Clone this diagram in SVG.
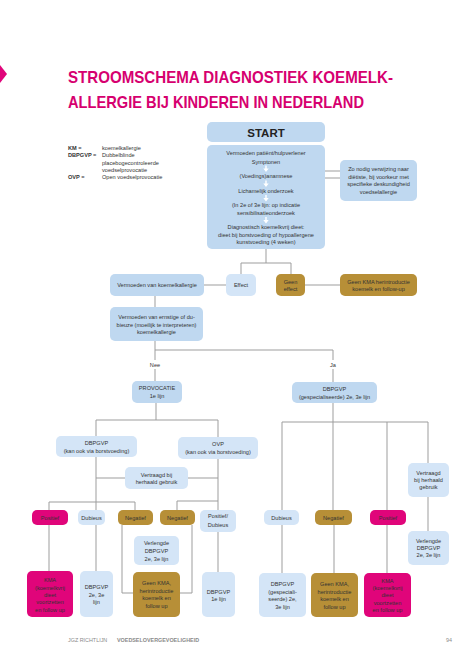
<svg xmlns="http://www.w3.org/2000/svg" width="474" height="670" viewBox="0 0 474 670">
<style>
.t{font-family:"Liberation Sans",Arial,sans-serif;font-size:5.6px;fill:#333;text-anchor:middle}
.lg{font-family:"Liberation Sans",Arial,sans-serif;font-size:5.6px;fill:#333}
.b{fill:#bfd8f0}
.l{fill:#d4e5f7}
.g{fill:#b78f37}
.p{fill:#e0057a}
.c line,.c path{stroke:#9d9d9d;stroke-width:1;fill:none}
.title{font-family:"Liberation Sans",Arial,sans-serif;font-weight:bold;font-size:17px;fill:#d6006f}
.ft{font-family:"Liberation Sans",Arial,sans-serif;font-size:5.4px;fill:#8a8a8a}
</style>
<rect width="474" height="670" fill="#fff"/>
<path d="M0 65 L7 74 L0 83 Z" fill="#e0057a"/>
<text class="title" x="68" y="83" textLength="325" lengthAdjust="spacingAndGlyphs">STROOMSCHEMA DIAGNOSTIEK KOEMELK-</text>
<text class="title" x="68" y="108" textLength="296" lengthAdjust="spacingAndGlyphs">ALLERGIE BIJ KINDEREN IN NEDERLAND</text>

<g id="legend">
<text class="lg" x="68" y="150" font-weight="bold">KM =</text><text class="lg" x="102" y="150">koemelkallergie</text>
<text class="lg" x="68" y="157" font-weight="bold">DBPGVP =</text><text class="lg" x="102" y="157">Dubbelblinde</text>
<text class="lg" x="102" y="164.5">placebogecontroleerde</text>
<text class="lg" x="102" y="171.5">voedselprovocatie</text>
<text class="lg" x="68" y="179" font-weight="bold">OVP =</text><text class="lg" x="102" y="179">Open voedselprovocatie</text>
</g>

<g class="c" id="connectors">
<line x1="325" y1="171" x2="340" y2="171"/>
<line x1="325" y1="178" x2="340" y2="178"/>
<line x1="266" y1="249" x2="266" y2="263"/>
<path d="M241 274 V263 H291 V274"/>
<line x1="204" y1="285" x2="226" y2="285"/>
<line x1="305" y1="285" x2="340" y2="285"/>
<line x1="155" y1="296" x2="155" y2="307"/>
<path d="M155 341 V350 H333 V360"/>
<line x1="333" y1="369" x2="333" y2="382"/>
<line x1="155" y1="350" x2="155" y2="360"/>
<line x1="155" y1="369" x2="155" y2="381"/>
<path d="M96 436 V420 H218 V437"/>
<line x1="156" y1="403" x2="156" y2="420"/>
<line x1="96" y1="457" x2="96" y2="510"/>
<line x1="96" y1="478" x2="125" y2="478"/>
<line x1="188" y1="478" x2="218" y2="478"/>
<line x1="218" y1="459" x2="218" y2="510"/>
<path d="M49 510 V502 H135 V510"/>
<path d="M177 510 V501 H218"/>
<line x1="49" y1="525" x2="49" y2="571"/>
<line x1="96" y1="525" x2="96" y2="571"/>
<path d="M122 525 V593 H133"/>
<path d="M192 525 V593 H180"/>
<line x1="218" y1="532" x2="218" y2="572"/>
<line x1="333" y1="403" x2="333" y2="422"/>
<path d="M282 510 V422 H428 V463"/>
<line x1="333" y1="422" x2="333" y2="510"/>
<line x1="387" y1="422" x2="387" y2="510"/>
<line x1="428" y1="497" x2="428" y2="531"/>
<line x1="282" y1="525" x2="282" y2="573"/>
<line x1="334" y1="525" x2="334" y2="573"/>
<line x1="387" y1="525" x2="387" y2="573"/>
</g>
<text class="t" x="155" y="367">Nee</text>
<text class="t" x="333" y="367">Ja</text>

<g id="start"><rect class="b" x="207" y="122" width="118" height="20" rx="5"/>
<text class="t" x="266" y="137" style="font-size:11.5px;font-weight:bold;fill:#222">START</text></g>

<g id="main"><rect class="b" x="207" y="145" width="118" height="104" rx="5"/>
<text class="t" x="266" y="155">Vermoeden patiënt/hulpverlener</text>
<text class="t" x="266" y="163.5">Symptonen</text>
<path d="M265.3 165.5 h1.4 v3 h2 l-2.7 3.5 l-2.7 -3.5 h2 z" fill="#fff"/>
<text class="t" x="266" y="178">(Voedings)anamnese</text>
<path d="M265.3 180.5 h1.4 v3 h2 l-2.7 3.5 l-2.7 -3.5 h2 z" fill="#fff"/>
<text class="t" x="266" y="193">Lichamelijk onderzoek</text>
<path d="M265.3 195 h1.4 v3 h2 l-2.7 3.5 l-2.7 -3.5 h2 z" fill="#fff"/>
<text class="t" x="266" y="207">(In 2e of 3e lijn: op indicatie</text>
<text class="t" x="266" y="215">sensibilisatieonderzoek</text>
<path d="M265.3 217 h1.4 v3 h2 l-2.7 3.5 l-2.7 -3.5 h2 z" fill="#fff"/>
<text class="t" x="266" y="229">Diagnostisch koemelkvrij dieet:</text>
<text class="t" x="266" y="236.5">dieet bij borstvoeding of hypoallergene</text>
<text class="t" x="266" y="244">kunstvoeding (4 weken)</text></g>

<g id="dietist"><rect class="b" x="340" y="160" width="77" height="41" rx="5"/>
<text class="t" x="378.5" y="171">Zo nodig verwijzing naar</text>
<text class="t" x="378.5" y="178.5">diëtiste, bij voorkeur met</text>
<text class="t" x="378.5" y="186">specifieke deskundigheid</text>
<text class="t" x="378.5" y="193.5">voedselallergie</text></g>

<g id="vermoeden"><rect class="b" x="110" y="274" width="94" height="22" rx="5"/>
<text class="t" x="157" y="287">Vermoeden van koemelkallergie</text></g>
<g id="effect"><rect class="l" x="226" y="274" width="30" height="22" rx="5"/>
<text class="t" x="241" y="287">Effect</text></g>
<g id="geeneffect"><rect class="g" x="276" y="274" width="29" height="22" rx="5"/>
<text class="t" x="290.5" y="283.5">Geen</text><text class="t" x="290.5" y="290.5">effect</text></g>
<g id="geenkma1"><rect class="g" x="340" y="274" width="77" height="22" rx="5"/>
<text class="t" x="378.5" y="283.5">Geen KMA herintroductie</text><text class="t" x="378.5" y="290.5">koemelk en follow-up</text></g>

<g id="ernstig"><rect class="b" x="110" y="307" width="93" height="34" rx="5"/>
<text class="t" x="156.5" y="319">Vermoeden van ernstige of du-</text>
<text class="t" x="156.5" y="326.5">bieuze (moeilijk te interpreteren)</text>
<text class="t" x="156.5" y="334">koemelkallergie</text></g>

<g id="provocatie"><rect class="b" x="132" y="381" width="50" height="22" rx="5"/>
<text class="t" x="157" y="390">PROVOCATIE</text><text class="t" x="157" y="397.5">1e lijn</text></g>
<g id="dbpgvp-gesp"><rect class="b" x="292" y="382" width="85" height="21" rx="5"/>
<text class="t" x="334.5" y="391">DBPGVP</text><text class="t" x="334.5" y="398.5">(gespecialiseerde) 2e, 3e lijn</text></g>

<g id="dbpgvp-kan"><rect class="l" x="56" y="436" width="81" height="21" rx="5"/>
<text class="t" x="96.5" y="445">DBPGVP</text><text class="t" x="96.5" y="452.5">(kan ook via borstvoeding)</text></g>
<g id="ovp"><rect class="l" x="178" y="437" width="80" height="22" rx="5"/>
<text class="t" x="218" y="446">OVP</text><text class="t" x="218" y="453.5">(kan ook via borstvoeding)</text></g>

<g id="vertraagd1"><rect class="l" x="125" y="467" width="63" height="22" rx="5"/>
<text class="t" x="156.5" y="477">Vertraagd bij</text><text class="t" x="156.5" y="484">herhaald gebruik</text></g>

<g id="positief1"><rect class="p" x="32" y="510" width="36" height="15" rx="5"/><text class="t" x="50" y="519.5">Positief</text></g>
<g id="dubieus1"><rect class="l" x="78" y="510" width="27" height="15" rx="5"/><text class="t" x="91.5" y="519.5">Dubieus</text></g>
<g id="negatief1"><rect class="g" x="118" y="510" width="35" height="15" rx="5"/><text class="t" x="135.5" y="519.5">Negatief</text></g>
<g id="negatief2"><rect class="g" x="160" y="510" width="35" height="15" rx="5"/><text class="t" x="177.5" y="519.5">Negatief</text></g>
<g id="posdub"><rect class="l" x="200" y="510" width="36" height="22" rx="5"/>
<text class="t" x="218" y="518">Positief/</text><text class="t" x="218" y="527">Dubieus</text></g>

<g id="verlengde1"><rect class="l" x="134" y="536" width="45" height="29" rx="5"/>
<text class="t" x="156.5" y="545">Verlengde</text><text class="t" x="156.5" y="553">DBPGVP</text><text class="t" x="156.5" y="560.5">2e, 3e lijn</text></g>

<g id="kma1"><rect class="p" x="27" y="571" width="46" height="46" rx="5"/>
<text class="t" x="50" y="582">KMA</text><text class="t" x="50" y="590">(koemelkvrij</text><text class="t" x="50" y="596.5">dieet</text><text class="t" x="50" y="604">voortzetten</text><text class="t" x="50" y="611.5">en follow up</text></g>
<g id="dbpgvp23"><rect class="l" x="80" y="571" width="33" height="46" rx="5"/>
<text class="t" x="96.5" y="589">DBPGVP</text><text class="t" x="96.5" y="596.5">2e, 3e</text><text class="t" x="96.5" y="604">lijn</text></g>
<g id="geenkma2"><rect class="g" x="133" y="572" width="47" height="45" rx="5"/>
<text class="t" x="156.5" y="585">Geen KMA,</text><text class="t" x="156.5" y="593">herintroductie</text><text class="t" x="156.5" y="600">koemelk en</text><text class="t" x="156.5" y="608">follow up</text></g>
<g id="dbpgvp1e"><rect class="l" x="202" y="572" width="33" height="45" rx="5"/>
<text class="t" x="218.5" y="594">DBPGVP</text><text class="t" x="218.5" y="601">1e lijn</text></g>

<g id="vertraagd2"><rect class="l" x="408" y="463" width="41" height="34" rx="5"/>
<text class="t" x="428.5" y="475">Vertraagd</text><text class="t" x="428.5" y="482">bij herhaald</text><text class="t" x="428.5" y="489">gebruik</text></g>
<g id="dubieus2"><rect class="l" x="264" y="510" width="35" height="15" rx="5"/><text class="t" x="281.5" y="519.5">Dubieus</text></g>
<g id="negatief3"><rect class="g" x="315" y="510" width="37" height="15" rx="5"/><text class="t" x="333.5" y="519.5">Negatief</text></g>
<g id="positief2"><rect class="p" x="370" y="510" width="36" height="15" rx="5"/><text class="t" x="388" y="519.5">Positief</text></g>
<g id="verlengde2"><rect class="l" x="408" y="531" width="41" height="34" rx="5"/>
<text class="t" x="428.5" y="543">Verlengde</text><text class="t" x="428.5" y="550">DBPGVP</text><text class="t" x="428.5" y="557">2e, 3e lijn</text></g>

<g id="dbpgvp-gesp2"><rect class="l" x="259" y="573" width="47" height="44" rx="5"/>
<text class="t" x="282.5" y="586">DBPGVP</text><text class="t" x="282.5" y="594">(gespeciali-</text><text class="t" x="282.5" y="601">seerde) 2e,</text><text class="t" x="282.5" y="609">3e lijn</text></g>
<g id="geenkma3"><rect class="g" x="311" y="573" width="47" height="44" rx="5"/>
<text class="t" x="334.5" y="586">Geen KMA,</text><text class="t" x="334.5" y="594">herintroductie</text><text class="t" x="334.5" y="601">koemelk en</text><text class="t" x="334.5" y="609">follow up</text></g>
<g id="kma2"><rect class="p" x="364" y="573" width="47" height="44" rx="5"/>
<text class="t" x="387.5" y="583">KMA</text><text class="t" x="387.5" y="590">(koemelkvrij</text><text class="t" x="387.5" y="597">dieet</text><text class="t" x="387.5" y="605">voortzetten</text><text class="t" x="387.5" y="612">en follow up</text></g>

<text class="ft" x="68" y="642">JGZ RICHTLIJN</text>
<text class="ft" x="117" y="642" font-weight="bold" fill="#777">VOEDSELOVERGEVOELIGHEID</text>
<text class="ft" x="452" y="642" text-anchor="end">94</text>
</svg>
